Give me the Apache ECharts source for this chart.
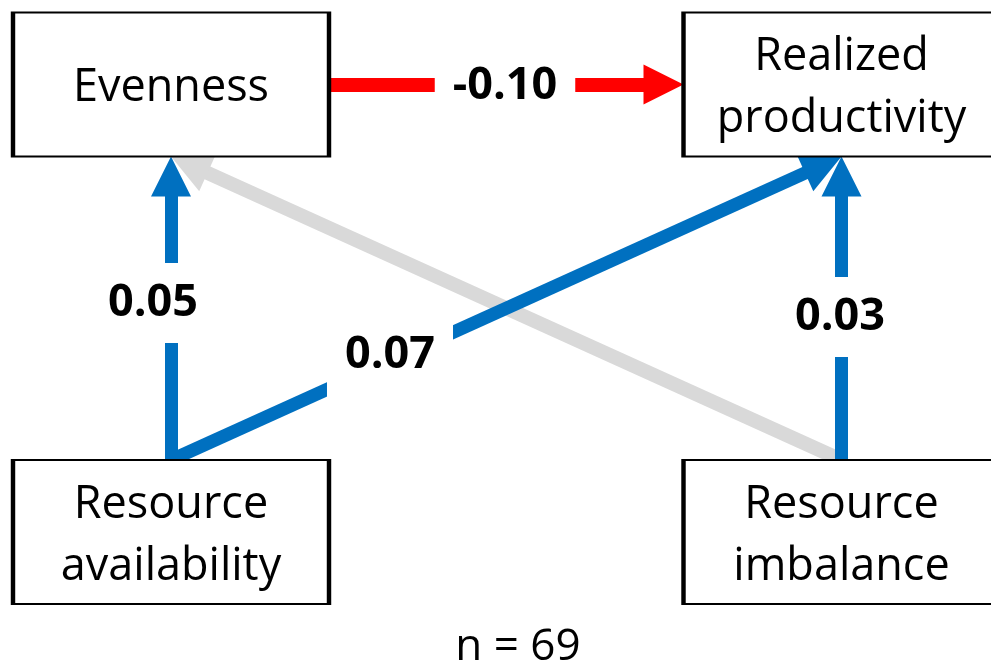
<!DOCTYPE html>
<html><head><meta charset="utf-8">
<script src="https://cdn.jsdelivr.net/npm/echarts@6/dist/echarts.min.js"></script>
<style>html,body{margin:0;padding:0;background:#fff}#c{width:991px;height:669px}</style>
</head><body><div id="c"></div><script>
// ---- data ----
const nodeNames = ['Evenness', 'Realized\nproductivity', 'Resource\navailability', 'Resource\nimbalance'];
const edgeFrom = [3, 2, 2, 3, 0];
const edgeTo   = [0, 1, 0, 1, 1];
const edgeCoef = [null, 0.07, 0.05, 0.03, -0.10];   // null = not significant
const sampleSize = 69;

// ---- layout (coordinate space of the hidden axes) ----
const nodeX = [171, 841.5, 171, 841.5];
const nodeY = [84.5, 84.5, 532, 532];
const boxW = 316, boxH = 144;
const labelX = [null, 390, 153, 840, 505];
const labelY = [null, 355, 303, 317, 86];
const arrowLen = 40;

const colorOf = c => c == null ? '#D9D9D9' : (c < 0 ? '#FF0000' : '#0070C0');

const lineData = edgeFrom.map((f, i) => {
  const t = edgeTo[i];
  let s, e;
  if (nodeY[f] === nodeY[t]) {
    s = [nodeX[f] + boxW / 2, nodeY[f]];
    e = [nodeX[t] - boxW / 2, nodeY[t]];
  } else {
    s = [nodeX[f], nodeY[f] - boxH / 2];
    e = [nodeX[t], nodeY[t] + boxH / 2];
  }
  const dx = e[0] - s[0], dy = e[1] - s[1], L = Math.hypot(dx, dy);
  // symbol is centred on the end point: move end back by half arrow length
  const e2 = [e[0] - dx / L * arrowLen / 2, e[1] - dy / L * arrowLen / 2];
  return {
    coords: [s, e2],
    lineStyle: { color: colorOf(edgeCoef[i]), opacity: 1, width: (edgeCoef[i] == null || edgeCoef[i] < 0) ? 14 : 13 },
    itemStyle: { color: colorOf(edgeCoef[i]), opacity: 1 }
  };
});

const labelData = [];
edgeCoef.forEach((c, i) => {
  if (c == null) return;
  labelData.push({
    value: [labelX[i], labelY[i]],
    name: c.toFixed(2),
    label: i === 1 ? { padding: [21, 18] } : {}
  });
});

const boxData = nodeNames.map((n, i) => ({ value: [nodeX[i], nodeY[i]], name: n }));

const chart = echarts.init(document.getElementById('c'), null, { renderer: 'canvas' });
chart.setOption({
  animation: false,
  grid: { left: 0, right: 0, top: 0, bottom: 0 },
  xAxis: { type: 'value', min: 0, max: 991, show: false },
  yAxis: { type: 'value', min: 0, max: 669, inverse: true, show: false },
  series: [
    {
      type: 'lines', coordinateSystem: 'cartesian2d', silent: true, z: 2,
      symbol: ['none', 'triangle'], symbolSize: arrowLen,
      lineStyle: { opacity: 1 },
      data: lineData
    },
    {
      type: 'scatter', silent: true, z: 4, symbolSize: 0,
      itemStyle: { opacity: 1 },
      label: {
        show: true, position: 'inside', formatter: '{b}',
        fontFamily: 'Open Sans', fontWeight: 'bold', fontSize: 45, lineHeight: 46,
        color: '#000', backgroundColor: '#fff', padding: [17, 18]
      },
      data: labelData
    },
    {
      type: 'scatter', silent: true, z: 5, symbol: 'rect', symbolSize: [boxW, boxH],
      itemStyle: { color: '#fff', borderColor: '#000', borderWidth: 3, opacity: 1 },
      label: {
        show: true, position: 'inside', formatter: '{b}', offset: [0, 4],
        fontFamily: 'Open Sans', fontSize: 45, lineHeight: 62, color: '#000'
      },
      data: boxData
    },
    {
      type: 'scatter', silent: true, z: 5, symbolSize: 0,
      itemStyle: { opacity: 1 },
      label: {
        show: true, position: 'inside', formatter: '{b}',
        fontFamily: 'Open Sans', fontSize: 44, color: '#000'
      },
      data: [{ value: [518, 647], name: 'n = ' + sampleSize }]
    }
  ]
});
</script></body></html>
